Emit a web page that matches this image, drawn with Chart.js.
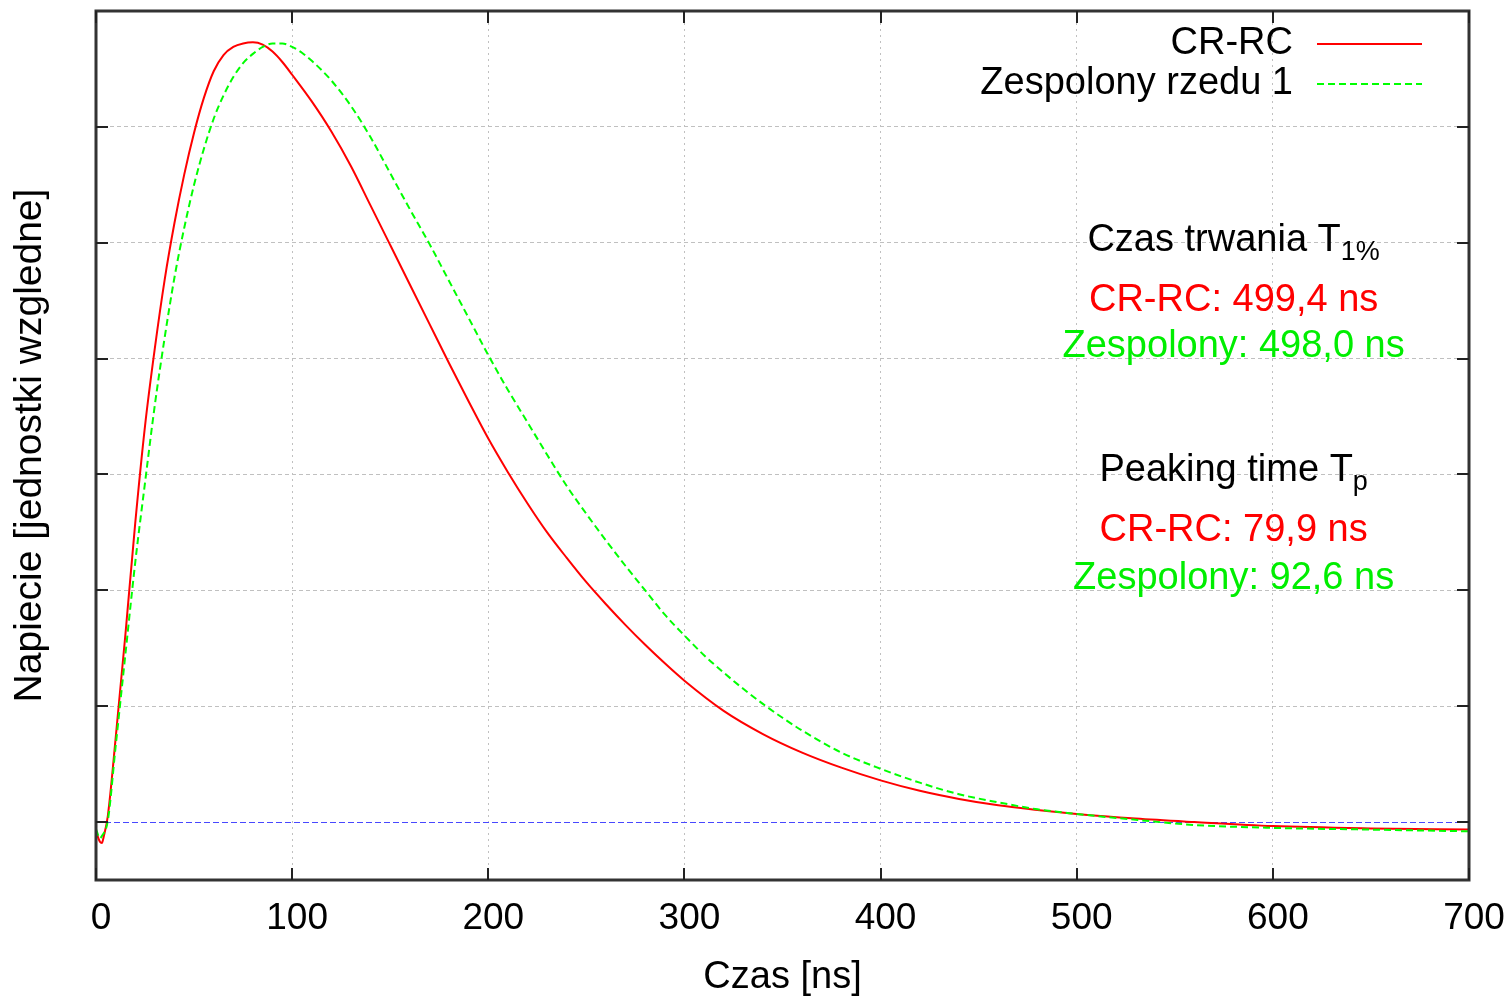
<!DOCTYPE html>
<html>
<head>
<meta charset="utf-8">
<script src="https://cdn.jsdelivr.net/npm/chart.js@4.4.1/dist/chart.umd.min.js"></script>
<style>
  html, body { margin: 0; padding: 0; background: #ffffff; }
  #wrap { width: 1509px; height: 998px; position: relative; }
</style>
</head>
<body>
<div id="wrap"><canvas id="c" width="1509" height="998"></canvas></div>
<script>
// ---- data ----
const xTickValues = [0, 100, 200, 300, 400, 500, 600, 700];
const yTickValues = [0, 1, 2, 3, 4, 5, 6];
const seriesNames = ['CR-RC', 'Zespolony rzedu 1'];

const crrcTime    = [0, 2, 3, 4, 6, 10, 15, 20, 25, 30, 35, 40, 45, 50, 55, 60, 65, 70, 75, 80, 85, 90, 95, 100, 110, 120, 130, 140, 150, 160, 170, 180, 190, 200, 210, 220, 230, 240, 250, 260, 270, 280, 290, 300, 320, 340, 360, 380, 400, 420, 440, 460, 480, 500, 530, 560, 600, 650, 700];
const crrcVoltage = [-0.08, -0.17, -0.18, -0.12, 0.05, 0.72, 1.62, 2.58, 3.42, 4.09, 4.68, 5.17, 5.59, 5.95, 6.25, 6.48, 6.62, 6.69, 6.72, 6.73, 6.71, 6.65, 6.56, 6.45, 6.22, 5.96, 5.66, 5.32, 4.98, 4.64, 4.3, 3.96, 3.63, 3.31, 3.02, 2.75, 2.5, 2.28, 2.07, 1.88, 1.7, 1.53, 1.37, 1.22, 0.96, 0.76, 0.6, 0.47, 0.36, 0.27, 0.2, 0.145, 0.105, 0.07, 0.03, 0.0, -0.035, -0.055, -0.065];

const zespTime    = [0, 2, 3, 6, 10, 15, 20, 25, 30, 35, 40, 45, 50, 55, 60, 65, 70, 75, 80, 85, 90, 95, 100, 105, 110, 115, 120, 130, 140, 150, 160, 170, 180, 190, 200, 210, 220, 230, 240, 250, 260, 270, 280, 290, 300, 310, 320, 330, 340, 350, 360, 380, 400, 420, 440, 460, 480, 500, 530, 560, 600, 650, 700];
const zespVoltage = [-0.06, -0.14, -0.12, 0.01, 0.65, 1.45, 2.24, 2.93, 3.6, 4.18, 4.7, 5.13, 5.5, 5.81, 6.07, 6.27, 6.43, 6.55, 6.63, 6.69, 6.72, 6.72, 6.69, 6.64, 6.57, 6.49, 6.4, 6.18, 5.91, 5.6, 5.29, 4.99, 4.67, 4.35, 4.03, 3.73, 3.45, 3.17, 2.9, 2.66, 2.43, 2.21, 2.0, 1.79, 1.61, 1.44, 1.29, 1.15, 1.02, 0.9, 0.79, 0.6, 0.46, 0.34, 0.24, 0.17, 0.11, 0.07, 0.02, -0.025, -0.05, -0.065, -0.08];

const xAxisTitle = 'Czas [ns]';
const yAxisTitle = 'Napiecie [jednostki wzgledne]';
const annotationLines = [
  { text: 'Czas trwania T', sub: '1%', color: '#000000' },
  { text: 'CR-RC: 499,4 ns', sub: '', color: '#ff0000' },
  { text: 'Zespolony: 498,0 ns', sub: '', color: '#00ee00' },
  { text: 'Peaking time T', sub: 'p', color: '#000000' },
  { text: 'CR-RC: 79,9 ns', sub: '', color: '#ff0000' },
  { text: 'Zespolony: 92,6 ns', sub: '', color: '#00ee00' }
];

// ---- styling ----
const FONT = '"Liberation Sans", Arial, Helvetica, sans-serif';
const RED = '#ff0000';
const GREEN = '#00ff00';
const GRID = '#c0c0c0';
Chart.defaults.font.family = FONT;
Chart.defaults.color = '#000000';

// placement of the annotation block (in the scales' units)
const annotX = 580;
const annotY = [5.02, 4.5, 4.1, 3.03, 2.52, 2.1];

const decorPlugin = {
  id: 'decor',
  beforeDatasetsDraw(chart) {
    const { ctx, chartArea: a, scales: { y } } = chart;
    const y0 = Math.round(y.getPixelForValue(0)) + 0.5;
    ctx.save();
    ctx.strokeStyle = '#4848ff';
    ctx.lineWidth = 1;
    ctx.setLineDash([6, 3]);
    ctx.beginPath();
    ctx.moveTo(a.left, y0);
    ctx.lineTo(a.right, y0);
    ctx.stroke();
    ctx.restore();
  },
  afterDatasetsDraw(chart) {
    const { ctx, chartArea: a, scales: { x, y } } = chart;
    ctx.save();
    // frame
    ctx.strokeStyle = '#333333';
    ctx.lineWidth = 3;
    ctx.strokeRect(a.left, a.top, a.right - a.left, a.bottom - a.top);
    // inward ticks
    ctx.lineWidth = 2;
    ctx.strokeStyle = '#222222';
    const tl = 12;
    ctx.beginPath();
    xTickValues.forEach(v => {
      const px = Math.round(x.getPixelForValue(v));
      ctx.moveTo(px, a.bottom); ctx.lineTo(px, a.bottom - tl);
      ctx.moveTo(px, a.top); ctx.lineTo(px, a.top + tl);
    });
    yTickValues.forEach(v => {
      const py = Math.round(y.getPixelForValue(v));
      ctx.moveTo(a.left, py); ctx.lineTo(a.left + tl, py);
      ctx.moveTo(a.right, py); ctx.lineTo(a.right - tl, py);
    });
    ctx.stroke();

    // legend (top right, text right-aligned, sample on the right)
    ctx.font = '38px ' + FONT;
    ctx.textAlign = 'right';
    ctx.textBaseline = 'middle';
    const legX = a.right - 176;
    const legY = [a.top + 33, a.top + 73];
    chart.data.datasets.forEach((ds, i) => {
      ctx.fillStyle = '#000000';
      ctx.fillText(ds.label, legX, legY[i]);
      ctx.strokeStyle = ds.borderColor;
      ctx.lineWidth = 2;
      ctx.setLineDash(ds.borderDash || []);
      ctx.beginPath();
      ctx.moveTo(legX + 24, legY[i]);
      ctx.lineTo(legX + 129, legY[i]);
      ctx.stroke();
    });
    ctx.setLineDash([]);

    // annotation block
    const cx = x.getPixelForValue(annotX);
    annotationLines.forEach((ln, i) => {
      const cy = y.getPixelForValue(annotY[i]);
      ctx.font = '38px ' + FONT;
      const w1 = ctx.measureText(ln.text).width;
      ctx.font = '27px ' + FONT;
      const w2 = ln.sub ? ctx.measureText(ln.sub).width : 0;
      const start = cx - (w1 + w2) / 2;
      ctx.textAlign = 'left';
      ctx.fillStyle = ln.color;
      ctx.font = '38px ' + FONT;
      ctx.fillText(ln.text, start, cy);
      if (ln.sub) {
        ctx.font = '27px ' + FONT;
        ctx.fillText(ln.sub, start + w1, cy + 12);
      }
    });
    ctx.restore();
  }
};

const toPoints = (ts, vs) => ts.map((t, i) => ({ x: t, y: vs[i] }));

new Chart(document.getElementById('c'), {
  type: 'line',
  data: {
    datasets: [
      {
        label: seriesNames[0],
        data: toPoints(crrcTime, crrcVoltage),
        borderColor: RED,
        borderWidth: 2,
        pointRadius: 0,
        cubicInterpolationMode: 'monotone',
        fill: false,
        order: 1
      },
      {
        label: seriesNames[1],
        data: toPoints(zespTime, zespVoltage),
        borderColor: GREEN,
        borderWidth: 2,
        borderDash: [7, 4],
        pointRadius: 0,
        cubicInterpolationMode: 'monotone',
        fill: false,
        order: 0
      }
    ]
  },
  options: {
    responsive: false,
    animation: false,
    devicePixelRatio: 1,
    layout: { padding: { top: 11, right: 40, bottom: 0, left: 0 } },
    plugins: { legend: { display: false }, tooltip: { enabled: false } },
    scales: {
      x: {
        type: 'linear',
        min: 0,
        max: 700,
        ticks: {
          stepSize: 100,
          includeBounds: false,
          font: { size: 37 },
          color: '#000000',
          padding: 17,
          maxRotation: 0,
          autoSkip: false,
          labelOffset: 5
        },
        grid: { color: GRID, lineWidth: 1, drawTicks: false },
        border: { display: false, dash: [2, 4] },
        title: {
          display: true,
          text: xAxisTitle,
          font: { size: 38, lineHeight: 1 },
          color: '#000000',
          padding: { top: 0, bottom: 1 }
        },
        afterFit(s) { s.height = 118; s.paddingLeft = 0; s.paddingRight = 0; }
      },
      y: {
        min: -0.5,
        max: 7,
        ticks: { display: false, stepSize: 1, includeBounds: false },
        grid: {
          color: c => (c.tick && c.tick.value === 0) ? 'rgba(0,0,0,0)' : GRID,
          lineWidth: 1,
          drawTicks: false
        },
        border: { display: false, dash: [4, 3] },
        title: {
          display: true,
          text: yAxisTitle,
          font: { size: 39, lineHeight: 1 },
          color: '#000000',
          padding: { top: 11, bottom: 0 }
        },
        afterFit(s) { s.width = 96; s.paddingTop = 0; s.paddingBottom = 0; }
      }
    }
  },
  plugins: [decorPlugin]
});
</script>
</body>
</html>
